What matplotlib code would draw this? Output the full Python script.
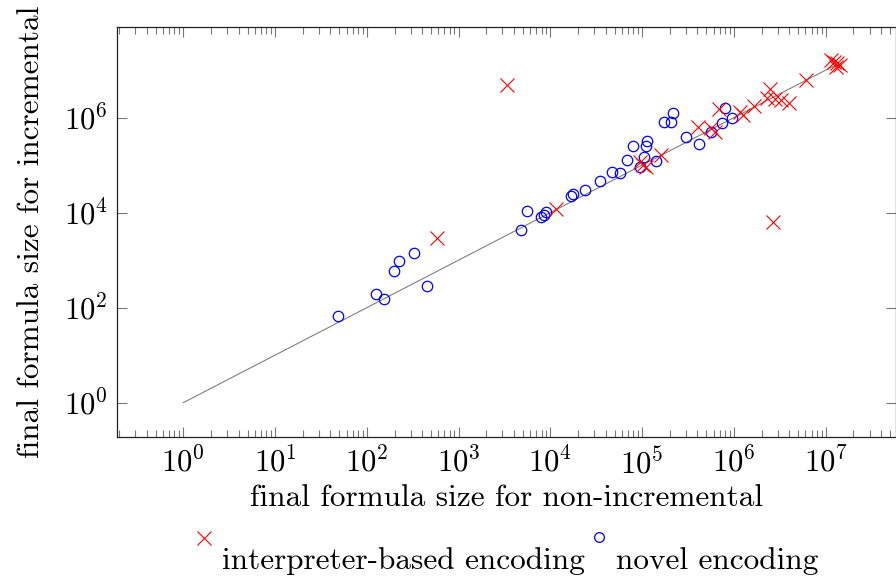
import matplotlib
matplotlib.use("Agg")
import matplotlib.pyplot as plt
from matplotlib.lines import Line2D
from matplotlib.ticker import LogLocator, NullLocator, NullFormatter, FixedLocator

plt.rcParams['font.family'] = 'serif'
plt.rcParams['font.serif'] = ['cmr10', 'DejaVu Serif']
plt.rcParams['mathtext.fontset'] = 'cm'
plt.rcParams['axes.unicode_minus'] = False
plt.rcParams['axes.formatter.use_mathtext'] = True

# novel encoding (blue circles)
novel_x = [49, 127, 154, 195, 224, 322, 446, 4810, 5600, 7800, 8400, 8900,
           16900, 17400, 23700, 34700, 46600, 56900, 69000, 79400, 94000,
           104000, 111000, 114000, 143000, 173000, 207000, 215000, 303000,
           412000, 557000, 735000, 951000, 806000]
novel_y = [65, 191, 155, 593, 976, 1440, 290, 4330, 10900, 7900, 9000, 10100,
           22800, 24400, 30000, 45800, 70900, 68500, 129000, 254000, 93000,
           147000, 254000, 328000, 121000, 812000, 812000, 1.24e6, 398000,
           280000, 500000, 762000, 986000, 1.58e6]

# interpreter-based encoding (red crosses)
interp_x = [582, 3370, 11400, 94000, 101000, 109000, 159000, 405000, 557000,
            616000, 690000, 1.15e6, 1.26e6, 1.64e6, 2.48e6, 2.27e6, 2.77e6,
            3.28e6, 3.94e6, 2.66e6, 6.04e6, 1.13e7, 1.22e7, 1.31e7, 1.42e7,
            1.28e7]
interp_y = [2980, 4.88e6, 11700, 114000, 101000, 89500, 164000, 637000,
            592000, 500000, 1.52e6, 1.32e6, 1.14e6, 1.76e6, 4.02e6, 2.60e6,
            2.48e6, 2.30e6, 2.07e6, 6470, 6.22e6, 1.64e7, 1.49e7, 1.42e7,
            1.26e7, 1.17e7]

# reference diagonal y = x
diag = [1, 1.2e7]

xlabel = "final formula size for non-incremental"
ylabel = "final formula size for incremental"
legend_labels = ["interpreter-based encoding", "novel encoding"]

FS = 22.5
W, H = 896, 581
fig = plt.figure(figsize=(W / 100, H / 100), dpi=100)
ax = fig.add_axes([117.3 / W, 1 - 437.3 / H, (895.5 - 117.3) / W, (437.3 - 27.3) / H])

ax.plot(diag, diag, color='#808080', lw=0.8, zorder=1)
ax.plot(interp_x, interp_y, ls='none', marker='x', ms=10.5, mew=0.8,
        color='#ff0000', zorder=3)
ax.plot(novel_x, novel_y, ls='none', marker='o', ms=7.5, mew=0.9,
        mfc='none', mec='#0000ff', zorder=2)

ax.set_xscale('log')
ax.set_yscale('log')
ax.set_xlim(10 ** -0.72, 10 ** 7.76)
ax.set_ylim(10 ** -0.73, 10 ** 7.90)

ax.xaxis.set_major_locator(LogLocator(base=10, numticks=20))
ax.xaxis.set_minor_locator(LogLocator(base=10, subs=range(2, 10), numticks=100))
ax.xaxis.set_minor_formatter(NullFormatter())
ax.yaxis.set_major_locator(FixedLocator([1, 1e2, 1e4, 1e6]))
ax.yaxis.set_minor_locator(NullLocator())

ax.tick_params(which='both', direction='in', top=True, right=True,
               color='#777777', width=0.8, labelsize=22, pad=7)
ax.tick_params(which='major', length=7)
ax.tick_params(which='minor', length=4.7)
for s in ax.spines.values():
    s.set_linewidth(0.9)
    s.set_color('#222222')

ax.set_xlabel(xlabel, fontsize=FS, labelpad=3)
ax.set_ylabel(ylabel, fontsize=FS, labelpad=13)

# legend (manual, pgfplots style)
fig.add_artist(Line2D([204 / W], [1 - 538 / H], transform=fig.transFigure,
                      marker='x', ms=10.5, mew=0.8, color='#ff0000', ls='none'))
fig.add_artist(Line2D([599 / W], [1 - 537 / H], transform=fig.transFigure,
                      marker='o', ms=7, mew=0.9, mfc='none', mec='#0000ff', ls='none'))
fig.text(222 / W, 1 - 561 / H, legend_labels[0], fontsize=FS, va='center', ha='left')
fig.text(616 / W, 1 - 561 / H, legend_labels[1], fontsize=FS, va='center', ha='left')

fig.savefig("out.png", dpi=100)
